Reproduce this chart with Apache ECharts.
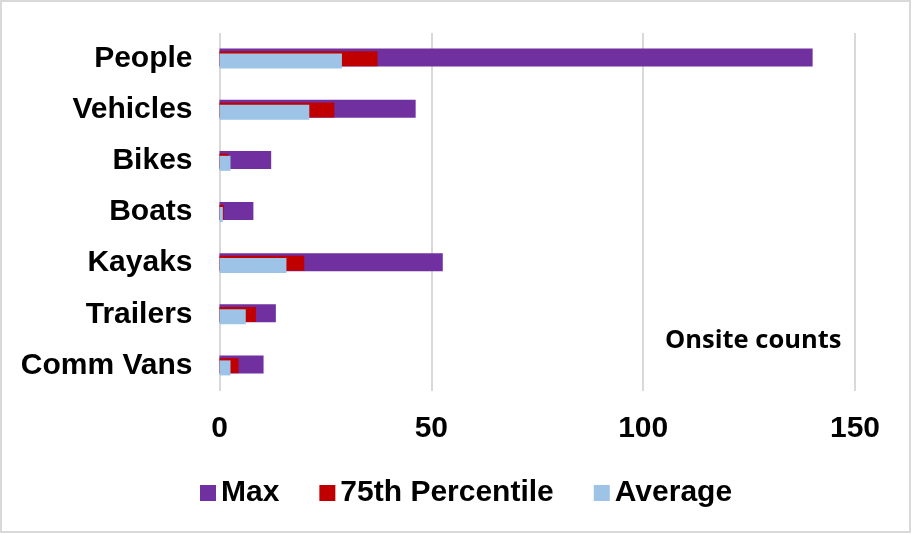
<!DOCTYPE html>
<html>
<head>
<meta charset="utf-8">
<script src="https://cdn.jsdelivr.net/npm/echarts@6/dist/echarts.min.js"></script>
<style>
  html, body { margin: 0; padding: 0; background: #fff; }
  #chart { width: 912px; height: 534px; }
</style>
</head>
<body>
<div id="chart"></div>
<script>
var categories = ['People', 'Vehicles', 'Bikes', 'Boats', 'Kayaks', 'Trailers', 'Comm Vans'];
var maxValues = [140, 46.3, 12.2, 8, 52.7, 13.3, 10.4];
var p75Values = [37.3, 27.1, 2.1, 1, 20, 8.6, 4.5];
var avgValues = [28.9, 21.2, 2.6, 0.8, 15.8, 6.2, 2.6];
var xTicks = [0, 50, 100, 150];

var chart = echarts.init(document.getElementById('chart'));
var font = '"Liberation Sans", Arial, sans-serif';

option = {
    animation: false,
    backgroundColor: '#fff',
    grid: {
        left: 219.5,
        right: 57,
        top: 33,
        bottom: 143
    },
    xAxis: {
        type: 'value',
        min: xTicks[0],
        max: xTicks[xTicks.length - 1],
        interval: 50,
        axisLine: { show: false },
        axisTick: { show: false },
        splitLine: { lineStyle: { color: '#d9d9d9', width: 2 } },
        axisLabel: {
            margin: 23,
            color: '#000',
            fontFamily: font,
            fontWeight: 'bold',
            fontSize: 30
        }
    },
    yAxis: {
        type: 'category',
        inverse: true,
        data: categories,
        axisLine: { show: false },
        axisTick: { show: false },
        axisLabel: {
            margin: 27,
            padding: [3, 0, 0, 0],
            color: '#000',
            fontFamily: font,
            fontWeight: 'bold',
            fontSize: 30
        }
    },
    legend: {
        left: 195,
        top: 473,
        itemWidth: 16,
        itemHeight: 16,
        itemGap: 40,
        icon: 'rect',
        textStyle: {
            color: '#000',
            fontFamily: font,
            fontWeight: 'bold',
            fontSize: 30
        },
        data: ['Max', '75th Percentile', 'Average']
    },
    graphic: [
        {
            type: 'rect',
            shape: { x: 1, y: 1, width: 909, height: 531 },
            style: { fill: 'none', stroke: '#d9d9d9', lineWidth: 2 },
            silent: true
        },
        {
            type: 'text',
            x: 665,
            y: 341,
            style: {
                text: 'Onsite counts',
                fill: '#000',
                font: 'bold 25.5px "Open Sans", sans-serif',
                verticalAlign: 'middle'
            }
        }
    ],
    series: [
        {
            name: 'Max',
            type: 'bar',
            data: maxValues,
            barWidth: 18,
            barGap: '-85%',
            itemStyle: { color: '#7030A0' }
        },
        {
            name: '75th Percentile',
            type: 'bar',
            data: p75Values,
            barWidth: 15,
            barGap: '-85%',
            itemStyle: { color: '#C00000' }
        },
        {
            name: 'Average',
            type: 'bar',
            data: avgValues,
            barWidth: 15,
            barGap: '-85%',
            itemStyle: { color: '#9DC3E6' }
        }
    ]
};

chart.setOption(option);
</script>
</body>
</html>
